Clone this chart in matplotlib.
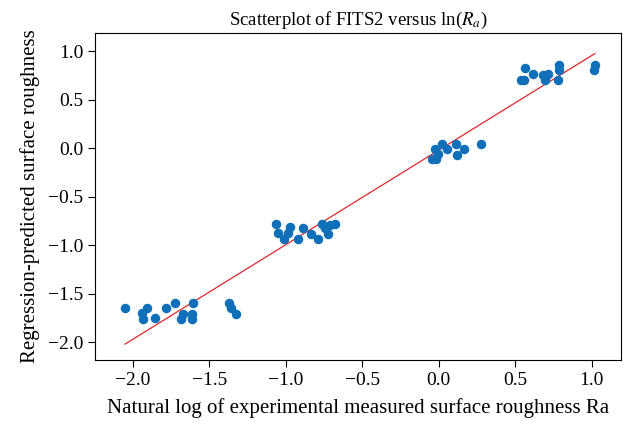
import numpy as np
import matplotlib
matplotlib.use("Agg")
import matplotlib.pyplot as plt

# ln(Ra) measured vs regression-predicted values
ln_ra = [-2.050, -1.939, -1.908, -1.931, -1.852, -1.782, -1.724, -1.673, -1.684,
         -1.604, -1.610, -1.610, -1.369, -1.359, -1.327,
         -1.063, -1.048, -0.972, -0.983, -1.009, -0.922, -0.885, -0.837, -0.787,
         -0.765, -0.743, -0.722, -0.678, -0.710,
         -0.046, -0.018, -0.024, -0.003, 0.020, 0.056, 0.111, 0.118, 0.167, 0.275,
         0.564, 0.618, 0.558, 0.684, 0.695, 0.716, 0.788, 0.788, 0.782, 1.022,
         1.017, 0.542]
fits2 = [-1.646, -1.701, -1.642, -1.756, -1.753, -1.646, -1.595, -1.704, -1.756,
         -1.595, -1.704, -1.756, -1.595, -1.646, -1.704,
         -0.784, -0.873, -0.811, -0.873, -0.938, -0.938, -0.818, -0.879, -0.938,
         -0.776, -0.818, -0.879, -0.784, -0.790,
         -0.113, -0.113, -0.003, -0.055, 0.048, -0.003, 0.048, -0.065, -0.003, 0.048,
         0.828, 0.770, 0.708, 0.760, 0.708, 0.770, 0.856, 0.811, 0.708, 0.856,
         0.811, 0.708]

# fitted line
slope = 0.975
intercept = -0.02

plt.rcParams['font.family'] = ['Liberation Serif', 'DejaVu Serif']
plt.rcParams['mathtext.fontset'] = 'stix'

fig = plt.figure(figsize=(6.31, 4.28), dpi=100)
ax = fig.add_axes([0.1506, 0.159, 0.8334, 0.764])

ax.scatter(ln_ra, fits2, s=34, color='#0f6fb8', zorder=3)
xl = np.array([min(ln_ra), max(ln_ra)])
ax.plot(xl, slope * xl + intercept, color='#e3262b', lw=0.9, zorder=2)

ax.set_xlim(-2.246, 1.192)
ax.set_ylim(-2.182, 1.189)
ax.set_xticks([-2.0, -1.5, -1.0, -0.5, 0.0, 0.5, 1.0])
ax.set_yticks([-2.0, -1.5, -1.0, -0.5, 0.0, 0.5, 1.0])
ax.tick_params(labelsize=14, direction='out', length=5)

ax.set_title('Scatterplot of FITS2 versus ln($R_a$)', fontsize=13.5)
ax.set_xlabel('Natural log of experimental measured surface roughness Ra', fontsize=15, labelpad=7)
ax.set_ylabel('Regression-predicted surface roughness', fontsize=15, labelpad=6)

fig.savefig("out.png", dpi=100)
